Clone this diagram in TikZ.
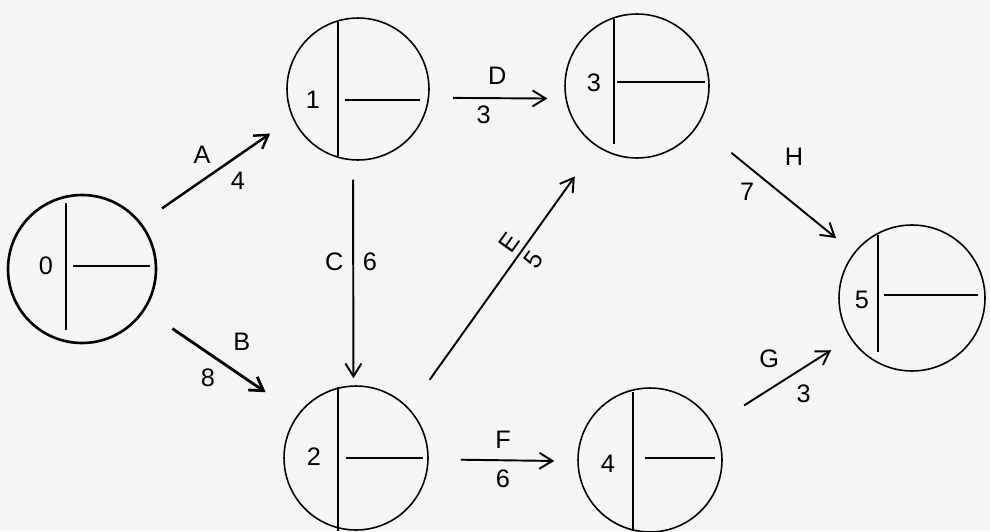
\documentclass[tikz,border=0pt]{standalone}
\usepackage{fontspec}
\setmainfont{Liberation Sans}
\usetikzlibrary{arrows.meta}
\tikzset{
  % The 'event' style is the circle of one event of the network
  event/.style={draw=black, line width=0.9pt, shape=circle, inner sep=0pt},
  % The 'divider' style is for the thin lines that split an event circle
  divider/.style={draw=black, line width=0.6pt},
  % The 'activity' style is for the arrows between events
  activity/.style={draw=black, line width=1.1pt, -{Straight Barb[length=2.6mm, width=3.2mm]}},
  % The 'tag' style is for activity letters and durations
  tag/.style={font=\Large, text=black, inner sep=0pt},
  % The 'evnum' style is for the event number inside a circle
  evnum/.style={font=\Large, text=black, inner sep=0pt}
}

\begin{document}
\begin{tikzpicture}[x=0.02cm, y=-0.02cm]

  % Paper background, fixes the size of the picture
  \fill[gray!8] (0,0) rectangle (990,531);
  \useasboundingbox (0,0) rectangle (990,531);

  % Event 0, drawn a little heavier
  \node[event, line width=1.5pt, minimum size=2.96cm] at (82,269) (n0) {};
  \draw[divider] ([shift={(-16,-66)}]n0.center) -- ([shift={(-16,61)}]n0.center);
  \draw[divider] ([shift={(-9,-3)}]n0.center) -- ([shift={(68,-3)}]n0.center);
  \node[evnum] at (46,266) (n0-num) {0};

  % Event 1
  \node[event, minimum size=2.84cm] at (358,89) (n1) {};
  \draw[divider] ([shift={(-20,-67)}]n1.center) -- ([shift={(-20,67)}]n1.center);
  \draw[divider] ([shift={(-13,11)}]n1.center) -- ([shift={(62,11)}]n1.center);
  \node[evnum] at (313,100) (n1-num) {1};

  % Event 2
  \node[event, minimum size=2.88cm] at (356,458) (n2) {};
  \draw[divider] ([shift={(-18,-71)}]n2.center) -- ([shift={(-18,73)}]n2.center);
  \draw[divider] ([shift={(-10,0)}]n2.center) -- ([shift={(67,0)}]n2.center);
  \node[evnum] at (314,457) (n2-num) {2};

  % Event 3
  \node[event, minimum size=2.88cm] at (637,86) (n3) {};
  \draw[divider] ([shift={(-23,-67)}]n3.center) -- ([shift={(-23,58)}]n3.center);
  \draw[divider] ([shift={(-20,-4)}]n3.center) -- ([shift={(68,-4)}]n3.center);
  \node[evnum] at (594,83) (n3-num) {3};

  % Event 4
  \node[event, minimum size=2.88cm] at (650,460) (n4) {};
  \draw[divider] ([shift={(-17,-68)}]n4.center) -- ([shift={(-17,71)}]n4.center);
  \draw[divider] ([shift={(-5,-2)}]n4.center) -- ([shift={(65,-2)}]n4.center);
  \node[evnum] at (608,464) (n4-num) {4};

  % Event 5
  \node[event, minimum size=2.92cm] at (912,298) (n5) {};
  \draw[divider] ([shift={(-34,-63)}]n5.center) -- ([shift={(-34,54)}]n5.center);
  \draw[divider] ([shift={(-28,-3)}]n5.center) -- ([shift={(66,-3)}]n5.center);
  \node[evnum] at (862,300) (n5-num) {5};

  % Activities, each with its letter and duration
  \draw[activity, line width=1.4pt, shorten <=0.5cm, shorten >=0.54cm] (n0.38) -- (n1.204)
    node[tag, pos=0.5, above left=3pt] (a-name) {A}
    node[tag, pos=0.55, below right=3pt] (a-time) {4};
  \draw[activity, line width=1.6pt, shorten <=0.66cm, shorten >=0.78cm] (n0.-33) -- (n2.143)
    node[tag, pos=0.5, above right=6pt] (b-name) {B}
    node[tag, pos=0.5, below left=3pt] (b-time) {8};
  \draw[activity, shorten <=0.38cm, shorten >=0.14cm] (n1.-94) -- (n2.92)
    node[tag, pos=0.45, left=5pt] (c-name) {C}
    node[tag, pos=0.45, right=5pt] (c-time) {6};
  \draw[activity, shorten <=0.48cm, shorten >=0.36cm] (n1.-7) -- (n3.190)
    node[tag, midway, above=7pt] (d-name) {D}
    node[tag, pos=0.4, below=4pt] (d-time) {3};
  \draw[activity, shorten <=0.7cm, shorten >=0.74cm] (n2.43) -- (n3.236)
    node[tag, pos=0.6, sloped, above=3pt] (e-name) {E}
    node[tag, pos=0.6, sloped, below=3pt] (e-time) {5};
  \draw[activity, shorten <=0.64cm, shorten >=0.46cm] (n2.-1) -- (n4.181)
    node[tag, midway, above=6pt] (f-name) {F}
    node[tag, midway, below=5pt] (f-time) {6};
  \draw[activity, shorten <=0.72cm, shorten >=0.45cm] (n4.29) -- (n5.213)
    node[tag, pos=0.55, above left=5pt] (g-name) {G}
    node[tag, pos=0.55, below right=4pt] (g-time) {3};
  \draw[activity, shorten <=0.86cm, shorten >=0.46cm] (n3.-33) -- (n5.142)
    node[tag, pos=0.45, above right=9pt] (h-name) {H}
    node[tag, pos=0.4, below left=3pt] (h-time) {7};

\end{tikzpicture}
\end{document}
